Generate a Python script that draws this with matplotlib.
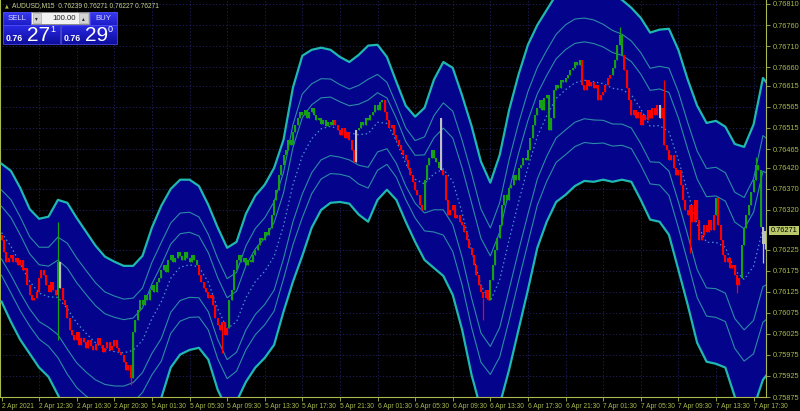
import numpy as np
import matplotlib
matplotlib.use('Agg')
import matplotlib.pyplot as plt
import matplotlib.transforms as mtransforms
from matplotlib.patches import Rectangle

plt.rcParams['font.family'] = ['Liberation Sans', 'DejaVu Sans']

# AUDUSD M15 closes, in points (1 point = 0.00001)
closes = [76249, 76220, 76197, 76206,
          76213, 76197, 76206, 76190, 76201, 76178, 76182,
          76142, 76118, 76106, 76111, 76125,
          76159, 76178, 76166,
          76142, 76125, 76149, 76130, 76118,
          76197,
          76135,
          76106, 76094, 76063, 76035, 76023,
          76011, 76030, 75999, 76016,
          76006, 75992, 76011, 75997, 75987, 76002, 76016, 75999, 75983, 75992, 76006, 75987, 75997, 76011, 75992, 75983,
          75975, 75959, 75940, 75952, 75921,
          76030,
          76059, 76083, 76106,
          76094, 76118, 76106, 76130, 76142, 76125, 76149,
          76159, 76178, 76190, 76173, 76201, 76213, 76197, 76206, 76220,
          76211, 76201, 76220, 76206, 76197, 76213, 76201, 76190,
          76166, 76149, 76135,
          76125, 76111, 76118, 76094,
          76063, 76047, 76035, 76054, 76023, 76040,
          76106, 76130,
          76178, 76201, 76213, 76197,
          76206, 76190, 76201, 76197, 76213, 76225,
          76237, 76254, 76249, 76268, 76261, 76278,
          76309, 76344, 76368, 76404, 76427, 76451,
          76463, 76487, 76475, 76506, 76523, 76539, 76554,
          76546, 76558, 76539, 76554, 76563, 76546, 76535,
          76539, 76525, 76535, 76520, 76530, 76523, 76535,
          76523, 76511, 76499, 76515, 76492, 76506, 76487,
          76463, 76435,
          76511,
          76515, 76530, 76523, 76539, 76535, 76546,
          76554, 76570, 76558, 76577, 76582,
          76554, 76535, 76515,
          76523, 76499, 76487,
          76475, 76463, 76451, 76439,
          76420, 76404, 76387, 76368,
          76356, 76332, 76320,
          76392, 76427, 76444, 76463,
          76444, 76435, 76420,
          76416,
          76404, 76344, 76309,
          76320, 76332, 76301, 76309, 76292, 76285,
          76268, 76249, 76230, 76213,
          76190, 76166, 76142,
          76125, 76111, 76130, 76106,
          76154, 76190,
          76225, 76254, 76285,
          76332, 76356, 76344, 76373,
          76380, 76404, 76392, 76420,
          76427, 76444, 76439, 76463,
          76492, 76523,
          76546, 76563, 76582, 76558, 76587, 76594,
          76511, 76539,
          76606, 76618, 76611, 76630, 76625,
          76634, 76642, 76653,
          76658, 76672, 76665, 76677,
          76618, 76606, 76630,
          76615, 76625, 76611, 76618,
          76582, 76594,
          76601, 76618, 76634,
          76642, 76658, 76677,
          76713, 76737,
          76689, 76653,
          76611, 76582,
          76546, 76558,
          76539, 76554, 76523, 76546, 76535, 76558, 76539,
          76563, 76546, 76570,
          76539,
          76563,
          76475,
          76463, 76439, 76451, 76420,
          76404, 76416, 76380,
          76344, 76320,
          76309, 76332, 76292, 76344, 76297,
          76249, 76261,
          76285, 76268, 76297, 76273, 76309,
          76349, 76285,
          76249, 76213,
          76197, 76206, 76182, 76190,
          76166, 76142, 76159,
          76237,
          76278, 76309,
          76332, 76363,
          76392, 76427, 76416,
          76280,
          76239,
          76271]
first_open = 76261
# bars whose open differs from the previous close
open_override = {187: 76539}

# bars with long wicks: bar -> (high, low)
spikes = {24: (76292, 76011), 55: (75952, 75904), 94: (76054, 75980),
          149: (76487, 76463), 205: (76111, 76059), 263: (76756, 76713),
          282: (76630, 76475), 293: (76332, 76218), 313: (76166, 76123),
          321: (76446, 76392), 324: (76280, 76194), 325: (76271, 76227)}

# candle colours as runs
color_runs = [('red', 24), ('green', 1), ('grey', 1), ('red', 30), ('green', 28),
              ('red', 13), ('green', 45), ('red', 9), ('grey', 1), ('green', 11),
              ('red', 17), ('green', 7), ('grey', 1), ('red', 20), ('green', 39),
              ('red', 13), ('green', 5), ('red', 15), ('grey', 1), ('red', 23),
              ('green', 1), ('red', 10), ('green', 9), ('grey', 2)]

# channel envelope (points), sampled every 4 bars
band_bars = list(range(0, 325, 4)) + [326]
upper_pts = [76430, 76413, 76372, 76322, 76299, 76304, 76344, 76337, 76301, 76268,
             76235, 76209, 76197, 76187, 76187, 76211, 76278, 76330, 76370, 76392,
             76392, 76377, 76332, 76278, 76230, 76244, 76311, 76354, 76380, 76420,
             76487, 76611, 76687, 76701, 76706, 76701, 76684, 76672, 76689, 76711,
             76713, 76684, 76625, 76568, 76542, 76563, 76630, 76672, 76658, 76592,
             76520, 76435, 76385, 76451, 76558, 76642, 76713, 76760, 76796, 76832,
             76856, 76868, 76868, 76863, 76849, 76832, 76820, 76801, 76777, 76742,
             76749, 76751, 76701, 76630, 76568, 76527, 76532, 76518, 76477, 76470,
             76523, 76634, 76620]
lower_pts = [76102, 76054, 76011, 75978, 75945, 75923, 75880, 75833, 75802, 75785,
             75773, 75769, 75769, 75773, 75785, 75809, 75845, 75873, 75945, 75976,
             75987, 75992, 75964, 75892, 75845, 75864, 75911, 75945, 75968, 75999,
             76078, 76149, 76211, 76278, 76320, 76337, 76339, 76335, 76309, 76292,
             76344, 76368, 76344, 76292, 76244, 76201, 76182, 76163, 76118, 76035,
             75928, 75845, 75821, 75857, 75940, 76035, 76130, 76230, 76292, 76339,
             76356, 76377, 76389, 76387, 76392, 76387, 76392, 76387, 76344, 76297,
             76292, 76261, 76178, 76094, 76004, 75959, 75954, 75945, 75876, 75840,
             75849, 75916, 75930]

price_ticks = [0.76810, 0.76760, 0.76710, 0.76660, 0.76615, 0.76565, 0.76515, 0.76465,
               0.76420, 0.76370, 0.76320, 0.76225, 0.76175, 0.76125, 0.76075,
               0.76025, 0.75975, 0.75925, 0.75875]
time_labels = ['2 Apr 2021', '2 Apr 12:30', '2 Apr 16:30', '2 Apr 20:30', '5 Apr 01:30',
               '5 Apr 05:30', '5 Apr 09:30', '5 Apr 13:30', '5 Apr 17:30', '5 Apr 21:30',
               '6 Apr 01:30', '6 Apr 05:30', '6 Apr 09:30', '6 Apr 13:30', '6 Apr 17:30',
               '6 Apr 21:30', '7 Apr 01:30', '7 Apr 05:30', '7 Apr 09:30', '7 Apr 13:30',
               '7 Apr 17:30']
bid = 0.76271
header = 'AUDUSD,M15  0.76239 0.76271 0.76227 0.76271'

assert len(closes) == 326 and len(upper_pts) == len(band_bars) == len(lower_pts)

fg = '#a9b94e'
palette = {'red': '#ff0000', 'green': '#17a017', 'grey': '#c0c0c0'}

# ---- build OHLC
c = np.array(closes) / 1e5
o = np.concatenate([[first_open / 1e5], c[:-1]])
for k, v in open_override.items():
    o[k] = v / 1e5
hi = np.maximum(o, c)
lo = np.minimum(o, c)
for k, (h, l) in spikes.items():
    hi[k] = h / 1e5
    lo[k] = l / 1e5
cols = []
for name, n in color_runs:
    cols += [palette[name]] * n
x = np.arange(len(c))

fig = plt.figure(figsize=(8, 4.11), dpi=100, facecolor='black')
ax = fig.add_axes([0, 14 / 411, 766 / 800, 397 / 411])
ax.set_facecolor('black')
ax.set_xlim(-0.64, 325.3)
ax.set_ylim(0.75875, 0.768195)

# grid
tick_bars = [16 * i for i in range(len(time_labels))]
grid_kw = dict(color='#23236e', lw=0.6, linestyles=(0, (1.5, 2.5)), zorder=0)
ax.hlines(price_ticks, -1, 330, **grid_kw)
ax.vlines(tick_bars[1:], 0.7, 0.8, **grid_kw)

# channel
bx = np.array(band_bars)
up = np.array(upper_pts) / 1e5
dn = np.array(lower_pts) / 1e5
mid = (up + dn) / 2
half = (up - dn) / 2
ax.fill_between(bx, dn, up, color='#03038c', lw=0, zorder=1)
for r in (0.618, 0.382):
    ax.plot(bx, mid + r * half, color='#2b8aa6', lw=0.8, zorder=2)
    ax.plot(bx, mid - r * half, color='#2b8aa6', lw=0.8, zorder=2)
ax.plot(bx, mid, color='#4a8fd6', lw=0.9, ls=(0, (1.2, 2.2)), zorder=2)
ax.plot(bx, up, color='#1fb8b0', lw=1.6, zorder=3)
ax.plot(bx, dn, color='#1fb8b0', lw=1.6, zorder=3)

# candles
ax.vlines(x, lo, hi, colors=cols, lw=0.9, zorder=4)
body = np.maximum(np.abs(c - o), 0.000015)
ax.bar(x, body, bottom=np.minimum(o, c), width=0.85, color=cols, lw=0, zorder=5)

# axes styling
ax.spines['top'].set_visible(False)
for s in ('right', 'bottom', 'left'):
    ax.spines[s].set_color(fg)
    ax.spines[s].set_linewidth(0.8)
ax.set_yticks(price_ticks)
ax.set_yticklabels(['%.5f' % p for p in price_ticks])
ax.tick_params(axis='y', left=False, labelleft=False, right=True, labelright=True,
               length=3, width=0.6, pad=2, colors=fg, labelsize=5.3)
ax.set_xticks(tick_bars)
ax.set_xticklabels(time_labels)
ax.tick_params(axis='x', length=3, width=0.6, pad=1.5, colors=fg, labelsize=4.8)
for t in ax.get_xticklabels():
    t.set_ha('left')

# bid label
tr = mtransforms.blended_transform_factory(ax.transAxes, ax.transData)
ax.text(1.006, bid, '%.5f' % bid, transform=tr, fontsize=5.3, color='black',
        va='center', ha='left', clip_on=False, zorder=10,
        bbox=dict(boxstyle='square,pad=0.18', fc='#b9c96a', ec='none'))

# ---- one-click trading panel and header
ov = fig.add_axes([0, 0, 1, 1])
ov.set_xlim(0, 800)
ov.set_ylim(411, 0)
ov.axis('off')

ov.text(6.5, 5.5, '\u25b2', color=fg, fontsize=3.5, ha='center', va='center',
        family=['DejaVu Sans'])
ov.text(12, 5.5, header, color='#c8d48a', fontsize=4.8, ha='left', va='center')


def grad_box(x0, y0, w, h, top, bottom):
    g = np.linspace(0, 1, 50).reshape(-1, 1)
    c0 = np.array(matplotlib.colors.to_rgb(top))
    c1 = np.array(matplotlib.colors.to_rgb(bottom))
    img = c0 + (c1 - c0) * g[:, :, None]
    ov.imshow(np.repeat(img, 2, axis=1), extent=(x0, x0 + w, y0 + h, y0),
              aspect='auto', zorder=1)
    ov.add_patch(Rectangle((x0, y0), w, h, fill=False, ec='#4a4af0', lw=0.6, zorder=2))


grad_box(3, 12, 28, 13, '#3a3af0', '#1c1cc8')
grad_box(89.5, 12, 27.5, 13, '#3a3af0', '#1c1cc8')
grad_box(3, 25, 57, 19, '#2a2ae6', '#0e0e9e')
grad_box(61, 25, 56, 19, '#2a2ae6', '#0e0e9e')
ov.text(17, 18.5, 'SELL', color='#d8d8ff', fontsize=5.6, ha='center', va='center', zorder=3)
ov.text(103.3, 18.5, 'BUY', color='#d8d8ff', fontsize=5.6, ha='center', va='center', zorder=3)

ov.add_patch(Rectangle((31, 12), 58, 12.5, fc='#f2f2f2', ec='#909090', lw=0.6, zorder=2))
ov.add_patch(Rectangle((32.5, 13.5), 8.5, 9.5, fc='#d4d4d4', ec='#a0a0a0', lw=0.4, zorder=3))
ov.add_patch(Rectangle((79, 13.5), 8.5, 9.5, fc='#d4d4d4', ec='#a0a0a0', lw=0.4, zorder=3))
ov.text(36.7, 18.2, '\u25be', fontsize=4, color='#202020', ha='center', va='center',
        family=['DejaVu Sans'], zorder=4)
ov.text(83.2, 18.2, '\u25b4', fontsize=4, color='#202020', ha='center', va='center',
        family=['DejaVu Sans'], zorder=4)
ov.text(76, 18.3, '100.00', fontsize=5.6, color='#202020', ha='right', va='center', zorder=4)

for x0, big, sup in ((4.5, '27', '1'), (62.5, '29', '0')):
    ov.text(x0 + 1.5, 38.5, '0.76', color='white', fontsize=6.3, fontweight='bold',
            ha='left', va='center', zorder=3)
    ov.text(x0 + 23, 35.5, big, color='white', fontsize=15, ha='left', va='center', zorder=3)
    ov.text(x0 + 45.5, 29.5, sup, color='white', fontsize=6.5, ha='left', va='center', zorder=3)

fig.savefig('out.png', dpi=100, facecolor='black')
